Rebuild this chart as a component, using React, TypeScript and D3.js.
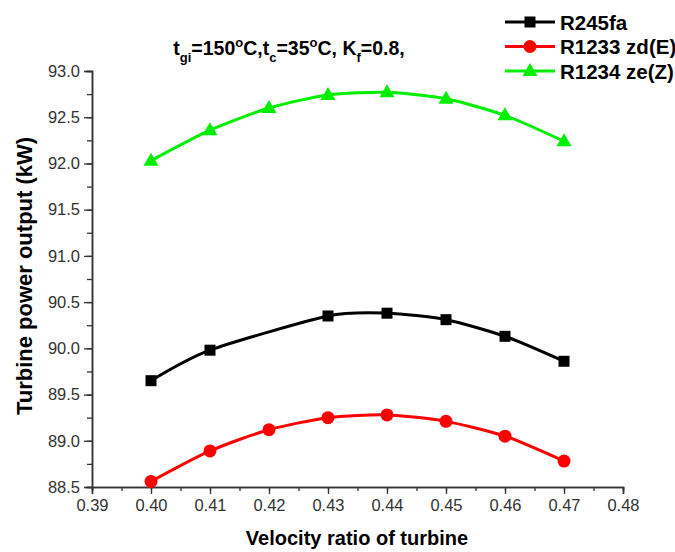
import React, { useRef, useEffect } from 'react'
import { select, line, curveCardinal, axisLeft, axisBottom, scaleLinear, range } from 'd3'

const ratios = [0.40, 0.41, 0.42, 0.43, 0.44, 0.45, 0.46, 0.47]
const ratiosR245 = [0.40, 0.41, 0.43, 0.44, 0.45, 0.46, 0.47]
const r245fa = [89.65, 89.98, 90.35, 90.38, 90.31, 90.13, 89.86]
const r1233 = [88.56, 88.89, 89.12, 89.25, 89.28, 89.21, 89.05, 88.78]
const r1234 = [92.03, 92.36, 92.60, 92.74, 92.77, 92.70, 92.52, 92.24]
const seriesNames = ['R245fa', 'R1233 zd(E)', 'R1234 ze(Z)']
const seriesColors = ['#000000', '#ff0000', '#00ee00']

const App = () => {
    const svgRef = useRef(null)

    useEffect(() => {
        const font = '"Liberation Sans", Arial, sans-serif'
        const svg = select(svgRef.current)
        svg.selectAll('*').remove()

        const xScale = scaleLinear().domain([0.39, 0.48]).range([92, 623])
        const yScale = scaleLinear().domain([88.5, 93.0]).range([487, 71])

        // minor ticks first, then major with labels
        const xMinor = axisBottom(xScale).tickValues(range(0, 19).map(i => 0.39 + i * 0.005)).tickSize(4).tickFormat(() => '')
        const yMinor = axisLeft(yScale).tickValues(range(0, 19).map(i => 88.5 + i * 0.25)).tickSize(5).tickFormat(() => '')
        const xAxis = axisBottom(xScale).tickValues(range(0, 10).map(i => 0.39 + i * 0.01)).tickSize(7).tickPadding(5).tickFormat(x => x.toFixed(2))
        const yAxis = axisLeft(yScale).tickValues(range(0, 10).map(i => 88.5 + i * 0.5)).tickSize(8).tickPadding(4).tickFormat(x => x.toFixed(1))

        svg.append('g').attr('transform', 'translate(0,487)').call(xMinor)
        svg.append('g').attr('transform', 'translate(92,0)').call(yMinor)
        svg.append('g').attr('class', 'ax').attr('transform', 'translate(0,487)').call(xAxis)
        svg.append('g').attr('class', 'ax').attr('transform', 'translate(92,0)').call(yAxis)

        svg.selectAll('.domain').attr('stroke', '#333').attr('stroke-width', 1.5)
        svg.selectAll('.tick line').attr('stroke', '#333').attr('stroke-width', 1.3)
        svg.selectAll('.ax text')
            .attr('font-family', font)
            .attr('font-size', 16.5)
            .attr('fill', '#333')

        const series = [
            { xs: ratiosR245, ys: r245fa },
            { xs: ratios, ys: r1233 },
            { xs: ratios, ys: r1234 }
        ]

        const curve = line()
            .x(d => xScale(d[0]))
            .y(d => yScale(d[1]))
            .curve(curveCardinal.tension(0.3))

        const marker = (g, i, cx, cy) => {
            if (i === 0) {
                g.append('rect').attr('x', cx - 5.5).attr('y', cy - 5.5).attr('width', 11).attr('height', 11).attr('fill', seriesColors[i])
            } else if (i === 1) {
                g.append('circle').attr('cx', cx).attr('cy', cy).attr('r', 6.5).attr('fill', seriesColors[i])
            } else {
                g.append('path')
                    .attr('d', `M${cx},${cy - 8}L${cx + 7.5},${cy + 5}L${cx - 7.5},${cy + 5}Z`)
                    .attr('fill', seriesColors[i])
            }
        }

        series.forEach((s, i) => {
            const pts = s.xs.map((x, j) => [x, s.ys[j]])
            svg.append('path')
                .attr('d', curve(pts))
                .attr('fill', 'none')
                .attr('stroke', seriesColors[i])
                .attr('stroke-width', 3)
            const g = svg.append('g')
            pts.forEach(p => marker(g, i, xScale(p[0]), yScale(p[1])))
        })

        // legend
        const legend = svg.append('g')
        seriesNames.forEach((name, i) => {
            const ly = 22 + i * 24.5
            legend.append('line')
                .attr('x1', 505).attr('x2', 555).attr('y1', ly).attr('y2', ly)
                .attr('stroke', seriesColors[i]).attr('stroke-width', 3)
            marker(legend, i, 530, ly)
            legend.append('text')
                .attr('x', 560).attr('y', ly + 7.5)
                .attr('font-family', font).attr('font-size', 20.5).attr('font-weight', 'bold')
                .text(name)
        })

        // title with sub/superscripts
        const title = svg.append('text')
            .attr('x', 289).attr('y', 55)
            .attr('text-anchor', 'middle')
            .attr('font-family', font).attr('font-size', 19.5).attr('font-weight', 'bold')
        const parts = [
            ['t', 0], ['gi', 1], ['=150', 0], ['o', 2], ['C,t', 0], ['c', 1],
            ['=35', 0], ['o', 2], ['C, K', 0], ['f', 1], ['=0.8,', 0]
        ]
        let shift = 0
        parts.forEach(([txt, kind]) => {
            const target = kind === 1 ? 7 : kind === 2 ? -8 : 0
            title.append('tspan')
                .attr('dy', target - shift)
                .attr('font-size', kind === 0 ? 19.5 : 13)
                .text(txt)
            shift = target
        })

        svg.append('text')
            .attr('transform', 'rotate(-90)')
            .attr('x', -276).attr('y', 32)
            .attr('text-anchor', 'middle')
            .attr('font-family', font).attr('font-size', 22).attr('font-weight', 'bold')
            .text('Turbine power output (kW)')

        svg.append('text')
            .attr('x', 357).attr('y', 545)
            .attr('text-anchor', 'middle')
            .attr('font-family', font).attr('font-size', 20).attr('font-weight', 'bold')
            .text('Velocity ratio of turbine')
    }, [])

    return (
        <svg width={675} height={552} ref={svgRef}
            style={{ position: 'absolute', left: 0, top: 0, background: '#fff' }} />
    )
}

export default App
